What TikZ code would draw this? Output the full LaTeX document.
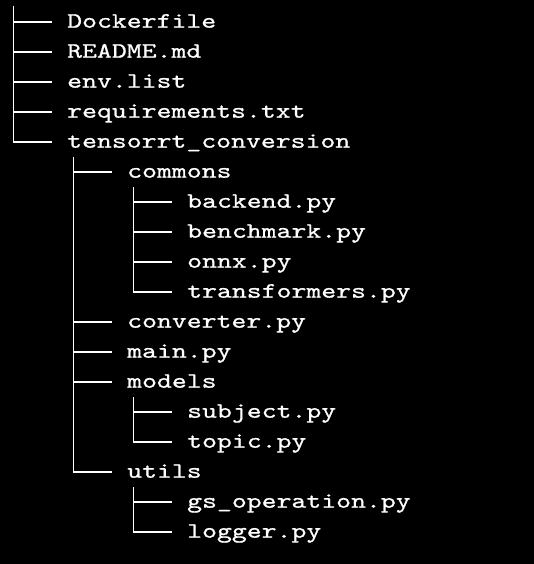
\documentclass[tikz,border=0pt]{standalone}
\usepackage{fontspec}
\newfontfamily\treefont[Extension=.otf, FakeStretch=1.29, FakeBold=0.8]{lmmono10-regular}
\usetikzlibrary{positioning}
\tikzset{%
  % Specifications for style of nodes:
            file/.style = {anchor=west, inner sep=0pt, text=white,
                            text height=12pt, text depth=0pt,
                            font=\treefont\fontsize{22}{30}\selectfont},
            branch/.style = {draw=white, line width=1.8pt, shorten >=15pt}
}
\begin{document}
\begin{tikzpicture}[x=1pt, y=-1pt, every node/.style={file}]
                \fill[black] (0,0) rectangle (534,564);

                % top level
                \coordinate (t0) at (13.5,6);
                \node (f01) at (67,21.7) {Dockerfile};
                \node (f02) at (67,51.7) {README.md};
                \node (f03) at (67,81.7) {env.list};
                \node (f04) at (67,111.7) {requirements.txt};
                \node (f05) at (67,141.7) {tensorrt\_conversion};
                \draw[branch] (t0) |- (f01.west);
                \draw[branch] (t0) |- (f02.west);
                \draw[branch] (t0) |- (f03.west);
                \draw[branch] (t0) |- (f04.west);
                \draw[branch] (t0) |- (f05.west);

                % tensorrt_conversion
                \coordinate (t1) at (73.5,157);
                \node (f06) at (127,171.7) {commons};
                \node (f11) at (127,321.7) {converter.py};
                \node (f12) at (127,351.7) {main.py};
                \node (f13) at (127,381.7) {models};
                \node (f16) at (127,471.7) {utils};
                \draw[branch] (t1) |- (f06.west);
                \draw[branch] (t1) |- (f11.west);
                \draw[branch] (t1) |- (f12.west);
                \draw[branch] (t1) |- (f13.west);
                \draw[branch] (t1) |- (f16.west);

                % commons
                \coordinate (t2) at (133.5,187);
                \node (f07) at (187,201.7) {backend.py};
                \node (f08) at (187,231.7) {benchmark.py};
                \node (f09) at (187,261.7) {onnx.py};
                \node (f10) at (187,291.7) {transformers.py};
                \draw[branch] (t2) |- (f07.west);
                \draw[branch] (t2) |- (f08.west);
                \draw[branch] (t2) |- (f09.west);
                \draw[branch] (t2) |- (f10.west);

                % models
                \coordinate (t3) at (133.5,397);
                \node (f14) at (187,411.7) {subject.py};
                \node (f15) at (187,441.7) {topic.py};
                \draw[branch] (t3) |- (f14.west);
                \draw[branch] (t3) |- (f15.west);

                % utils
                \coordinate (t4) at (133.5,487);
                \node (f17) at (187,501.7) {gs\_operation.py};
                \node (f18) at (187,531.7) {logger.py};
                \draw[branch] (t4) |- (f17.west);
                \draw[branch] (t4) |- (f18.west);

            \end{tikzpicture}
\end{document}
